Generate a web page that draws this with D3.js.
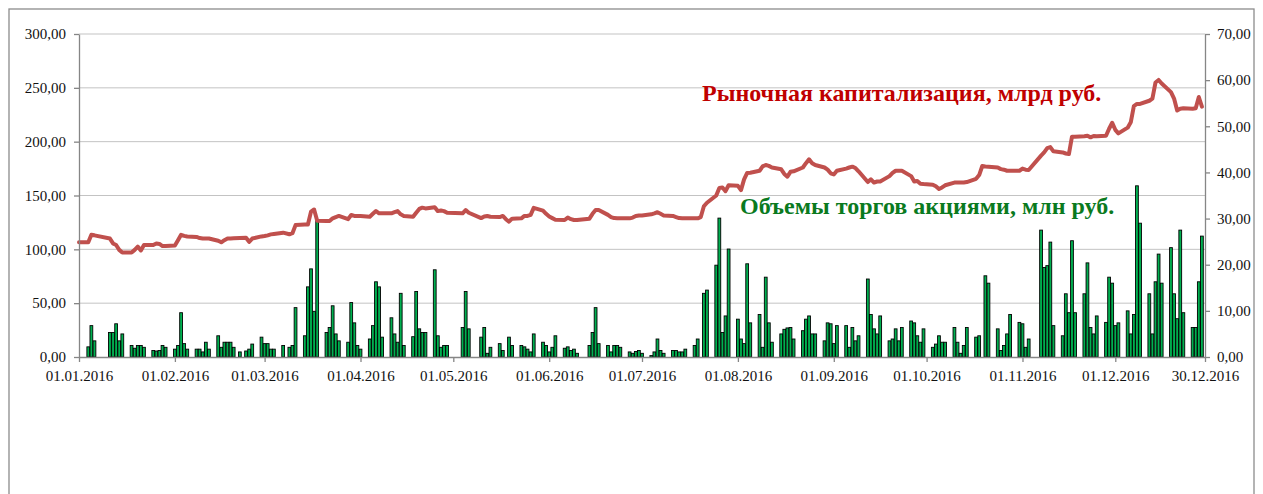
<!DOCTYPE html>
<html>
<head>
<meta charset="utf-8">
<script src="https://cdn.jsdelivr.net/npm/d3@7"></script>
<style>
  body { margin: 0; background: #fff; }
  svg text { font-family: "Liberation Serif", "Times New Roman", serif; }
</style>
</head>
<body>
<div id="chart"></div>
<script>
// trading days of each month, traded volume (mln rub, right axis), market cap (bln rub, left axis)
var janDays = [1,4,5,6,11,12,13,14,15,18,19,20,21,22,25,26,27,28,29];
var janVol  = [null,2.2,6.8,3.5,5.3,5.3,7.2,3.5,5.0,2.5,1.9,2.5,2.5,2.1,1.4,1.3,1.4,2.5,2.1];
var janCap  = [106.5,106.5,113.5,113,110,105.5,104,99.5,97,97,99.5,102.5,99,104,104,105.5,105,103,103];

var febDays = [1,2,3,4,5,8,9,10,11,12,15,16,17,18,19,20,22,24,25,26,29];
var febVol  = [1.7,2.5,9.6,2.9,1.7,1.7,1.7,1.1,3.2,1.7,4.6,2.1,3.2,3.2,3.2,2.1,1.1,1.3,1.7,2.8,4.3];
var febCap  = [103.5,108.5,113.5,112.5,112,111.5,110.5,110,110,110,108,106.5,108.5,110,110,110.2,110.5,110.8,107,110,112];

var marDays = [1,2,3,4,7,9,10,11,14,15,16,17,18,21,22,23,24,25,28,29,30,31];
var marVol  = [2.9,2.9,1.7,1.7,2.5,2.1,2.5,10.7,4.6,15.2,19.1,9.9,29.7,5.3,6.4,11.1,5.0,3.5,3.2,11.8,7.4,2.5];
var marCap  = [112.4,113,113.9,114.3,115.5,114,115,122.5,123,123,135,137,126.5,126.3,126.3,128.8,130,131,128,131.9,131,131];

var aprDays = [1,4,5,6,7,8,11,12,13,14,15,18,19,20,21,22,25,26,27,28,29];
var aprVol  = [1.7,3.9,6.8,16.3,15.2,4.3,8.5,5.0,3.2,13.8,2.5,4.4,14.2,6.1,5.3,5.3,18.9,4.6,2.1,2.5,2.5];
var aprCap  = [131,130.3,133,135.6,133.4,133.4,133.4,134.5,135.5,132.5,131,130.3,134,137.5,138.7,138,139,135.5,136,135.5,134];

var mayDays = [4,5,6,10,11,12,13,16,17,18,19,20,23,24,25,26,27,30,31];
var mayVol  = [6.4,14.2,6.1,4.3,6.4,0.8,2.1,2.9,1.4,null,4.3,2.5,2.5,2.2,1.7,1.1,5.0,3.2,2.5];
var mayCap  = [133.4,136.5,134,129,130.5,131,130.3,130,131,128,125.7,128.5,128.8,131,131,132,138.5,136,133];

var junDays = [1,2,3,6,7,8,9,10,14,15,16,17,20,21,22,23,24,27,28,29,30];
var junVol  = [1.1,2.1,4.6,1.9,2.2,1.4,1.7,0.8,2.5,5.3,10.7,2.9,2.5,1.1,2.5,2.5,2.1,1.1,0.8,1.2,1.4];
var junCap  = [130.5,129,127.5,127.2,129.5,128,127.2,127.2,128.5,133,136.5,136.5,132,130,129,128.8,128.8,128.8,129.5,131,131.5];

var julDays = [1,4,5,6,7,8,11,12,13,14,15,18,19,20,21,22,25,26,27,28,29];
var julVol  = [0.8,0.3,1.1,3.9,1.4,0.8,1.4,1.4,1.1,1.1,1.7,2.5,3.9,null,13.8,14.5,19.9,30.1,5.3,8.9,23.4];
var julCap  = [131.5,132.5,133.4,134.5,133,131.5,131,130,129,128.8,128.8,128.8,128.8,130,140,143.3,150,157,157.5,154,159.5];

var augDays = [1,2,3,4,5,8,9,10,11,12,15,16,17,18,19,22,23,24,25,26,29,30,31];
var augVol  = [8.2,3.9,2.9,20.2,7.4,9.2,2.1,17.3,7.4,3.2,5.0,6.0,6.3,6.4,3.9,5.7,8.2,8.9,5.0,5.0,3.5,7.4,7.2];
var augCap  = [159,155,165,171,171.2,173,177,178.3,177.5,176,174.3,170,167.5,172,172.5,176,180,183.6,180,178.3,176,174,170.6];

var sepDays = [1,2,5,6,7,8,9,12,13,14,15,16,19,20,21,22,23,26,27,28,29,30];
var sepVol  = [2.9,6.8,6.8,2.1,6.4,3.5,4.6,16.9,9.2,6.1,5.0,8.9,3.5,3.9,6.1,3.5,6.4,7.8,7.4,4.6,3.2,6.1];
var sepCap  = [169.5,173,175,176,176.8,175.5,172.5,162.5,165,162,163,163,168,171,173,173,173,168,163,163.5,161,160.7];

var octDays = [3,4,5,6,7,10,11,12,13,14,17,18,19,20,21,24,25,26,27,28,31];
var octVol  = [2.1,2.8,4.6,3.2,3.2,6.4,3.2,0.8,2.5,6.4,4.3,4.6,null,17.6,16.0,6.1,1.4,2.5,5.0,9.2,7.5];
var octCap  = [160,158.5,156,157.5,159.5,162,162,162,162,162.5,165.5,169,177.4,177,176.8,176,174.5,174,173,173,173];

var novDays = [1,2,3,7,8,9,10,11,14,15,16,17,18,21,22,23,24,25,28,29,30];
var novVol  = [7.2,2.1,3.9,27.5,19.4,19.8,24.9,6.8,4.6,13.7,9.6,25.2,9.6,13.7,20.4,6.4,5.0,8.9,7.5,17.3,16.0];
var novCap  = [175,174,173.7,187,190,194,195,191,190,189,188.5,204.6,204.6,205,205.5,204,205.3,205,205.5,212,217.6];

var decDays = [1,2,5,6,7,8,9,12,13,14,15,16,19,20,21,22,23,26,27,28,29];
var decVol  = [6.8,7.4,10.0,5.0,9.2,37.1,29.0,13.7,5.0,16.3,22.3,16.0,23.7,13.7,8.3,27.5,9.6,6.4,6.4,16.3,26.2];
var decCap  = [211,207.7,213,218,233,235,235,238,240,255,257.3,254,246,240,229,230.5,231,230.5,231,241.5,232.5];

var capTicks = [0,50,100,150,200,250,300];
var volTicks = [0,10,20,30,40,50,60,70];
var dateTicks = ['01.01.2016','01.02.2016','01.03.2016','01.04.2016','01.05.2016','01.06.2016',
                 '01.07.2016','01.08.2016','01.09.2016','01.10.2016','01.11.2016','01.12.2016','30.12.2016'];

var capLabel = 'Рыночная капитализация, млрд руб.';
var volLabel = 'Объемы торгов акциями, млн руб.';

var serif = '"Liberation Serif", "Times New Roman", serif';

var margin = {top: 34, right: 58, bottom: 137, left: 79};
var width = 1263 - margin.left - margin.right;
var height = 494 - margin.top - margin.bottom;

var parseDate = d3.utcParse('%d.%m.%Y');
var formatDate = d3.utcFormat('%d.%m.%Y');
var formatNum = (d) => d3.format('.2f')(d).replace('.', ',');

var months = [
  [janDays, janVol, janCap], [febDays, febVol, febCap], [marDays, marVol, marCap],
  [aprDays, aprVol, aprCap], [mayDays, mayVol, mayCap], [junDays, junVol, junCap],
  [julDays, julVol, julCap], [augDays, augVol, augCap], [sepDays, sepVol, sepCap],
  [octDays, octVol, octCap], [novDays, novVol, novCap], [decDays, decVol, decCap]
];

var rows = [];
months.forEach((m, i) => {
  m[0].forEach((day, j) => {
    rows.push({date: new Date(Date.UTC(2016, i, day)), vol: m[1][j], cap: m[2][j]});
  });
});

var x = d3.scaleUtc()
  .domain([parseDate('01.01.2016'), parseDate('30.12.2016')])
  .range([0, width]);
var yCap = d3.scaleLinear().domain([0, 300]).range([height, 0]);
var yVol = d3.scaleLinear().domain([0, 70]).range([height, 0]);

var svg = d3.select('#chart').append('svg')
  .attr('width', 1263)
  .attr('height', 494);

// outer chart frame
svg.append('rect')
  .attr('x', 9).attr('y', 9)
  .attr('width', 1245).attr('height', 600)
  .attr('fill', 'none')
  .attr('stroke', '#8c8c8c')
  .attr('stroke-width', 1.3);

var g = svg.append('g')
  .attr('transform', 'translate(' + margin.left + ',' + margin.top + ')');

// gridlines
g.append('g').selectAll('line')
  .data(capTicks.slice(1))
  .enter().append('line')
    .attr('x1', 0).attr('x2', width)
    .attr('y1', (d) => yCap(d)).attr('y2', (d) => yCap(d))
    .attr('stroke', '#c3c3c3')
    .attr('stroke-width', 1);

var dayW = x(parseDate('02.01.2016')) - x(parseDate('01.01.2016'));
var barW = dayW * 0.9;

g.append('g').selectAll('rect')
  .data(rows.filter((d) => d.vol != null))
  .enter().append('rect')
    .attr('x', (d) => x(d.date) - barW / 2)
    .attr('y', (d) => yVol(d.vol))
    .attr('width', barW)
    .attr('height', (d) => height - yVol(d.vol))
    .attr('fill', '#00b050')
    .attr('stroke', '#000')
    .attr('stroke-width', 0.9);

var line = d3.line()
  .x((d) => x(d.date))
  .y((d) => yCap(d.cap));

g.append('path')
  .datum(rows)
  .attr('d', line)
  .attr('fill', 'none')
  .attr('stroke', '#c0504d')
  .attr('stroke-width', 4)
  .attr('stroke-linejoin', 'round')
  .attr('stroke-linecap', 'round');

// axes
var leftAxis = g.append('g')
  .call(d3.axisLeft(yCap).tickValues(capTicks).tickFormat(formatNum)
    .tickSize(5).tickSizeOuter(0).tickPadding(8));

var rightAxis = g.append('g')
  .attr('transform', 'translate(' + width + ',0)')
  .call(d3.axisRight(yVol).tickValues(volTicks).tickFormat(formatNum)
    .tickSize(5).tickSizeOuter(0).tickPadding(7));

var bottomAxis = g.append('g')
  .attr('transform', 'translate(0,' + height + ')')
  .call(d3.axisBottom(x).tickValues(dateTicks.map(parseDate)).tickFormat(formatDate)
    .tickSize(5).tickSizeOuter(0).tickPadding(8));

[leftAxis, rightAxis, bottomAxis].forEach((a) => {
  a.attr('font-family', serif).attr('font-size', 15);
  a.select('.domain').attr('stroke', '#868686').attr('stroke-width', 1.3);
  a.selectAll('.tick line').attr('stroke', '#868686').attr('stroke-width', 1.3);
  a.selectAll('.tick text')
    .attr('fill', '#111')
    .style('font-size', '15px')
    .style('font-family', serif);
});

// series captions
svg.append('text')
  .attr('x', 702).attr('y', 101)
  .attr('fill', '#c00000')
  .style('font-family', serif)
  .style('font-size', '24px')
  .style('font-weight', 'bold')
  .text(capLabel);

svg.append('text')
  .attr('x', 740).attr('y', 213.5)
  .attr('fill', '#0a7a1e')
  .style('font-family', serif)
  .style('font-size', '24px')
  .style('font-weight', 'bold')
  .text(volLabel);
</script>
</body>
</html>
